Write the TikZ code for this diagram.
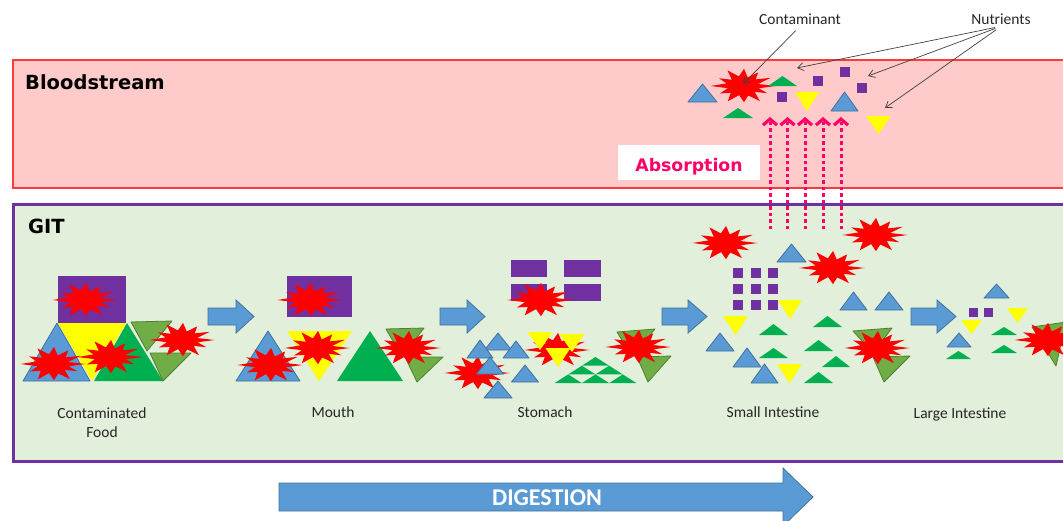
\documentclass[tikz,border=0pt]{standalone}
\usepackage{fontspec}
\setmainfont{Carlito}
\newfontfamily\headfont{DejaVu Sans}
\usetikzlibrary{arrows.meta}

\definecolor{bloodfill}{HTML}{FFCACA}
\definecolor{bloodedge}{HTML}{FF3B3B}
\definecolor{gitfill}{HTML}{E2EFDA}
\definecolor{gitedge}{HTML}{7030A0}
\definecolor{tblue}{HTML}{5B9BD5}
\definecolor{tblueedge}{HTML}{41719C}
\definecolor{tgreen}{HTML}{00B050}
\definecolor{tolive}{HTML}{70AD47}
\definecolor{toliveedge}{HTML}{507E32}
\definecolor{tpurple}{HTML}{7030A0}
\definecolor{tyellow}{HTML}{FFFF00}
\definecolor{absorbpink}{HTML}{FF0066}
\definecolor{pointgray}{HTML}{404040}
\definecolor{labelgray}{HTML}{262626}

% triangle helpers: style, centre x, base (or top) y, width, height
\newcommand\trup[5]{\path[#1] ({#2-(#4)/2},#3) -- ({#2+(#4)/2},#3) -- (#2,{#3-(#5)}) -- cycle;}
\newcommand\trdn[5]{\path[#1] ({#2-(#4)/2},#3) -- ({#2+(#4)/2},#3) -- (#2,{#3+(#5)}) -- cycle;}
% small nutrient square: x, y, size
\newcommand\nutsq[3]{\path[pur] (#1,#2) rectangle ++(#3,#3);}
% stage block arrow: left x, head base x, tip x
\newcommand\stagearrow[3]{\path[stagearr] (#1,308) -- (#2,308) -- (#2,300) -- (#3,316.5) -- (#2,333) -- (#2,325) -- (#1,325) -- cycle;}

\begin{document}
\begin{tikzpicture}[x=1pt,y=-1pt,
  blu/.style={fill=tblue,draw=tblueedge,line width=0.8pt,line join=round},
  yel/.style={fill=tyellow},
  grn/.style={fill=tgreen},
  olv/.style={fill=tolive,draw=toliveedge,line width=0.8pt,line join=round},
  pur/.style={fill=tpurple},
  stagearr/.style={fill=tblue,draw=tblueedge,line width=0.8pt,line join=miter},
  zonetitle/.style={font=\headfont\bfseries\fontsize{19.5}{22}\selectfont,anchor=base west,inner sep=0pt},
  stagelabel/.style={font=\fontsize{15.5}{19}\selectfont,text=labelgray,anchor=base,inner sep=0pt,align=center},
  toplabel/.style={font=\fontsize{15.5}{19}\selectfont,text=labelgray,anchor=base,inner sep=2pt},
  pointer/.style={draw=pointgray,line width=0.7pt,shorten <=6pt,-{Straight Barb[length=6pt,width=8pt]}},
  absorb/.style={draw=absorbpink,line width=3pt,dash pattern=on 3.5pt off 3pt,
    -{Straight Barb[length=6pt,width=14pt,line width=3.2pt]}},
  boom/.pic={\fill[red,xscale=31,yscale=18] (0:1.05)
    \foreach \a/\r in {14/.52, 27/.88, 41/.5, 57/1.0, 72/.55, 88/.9, 104/.52, 120/.98,
      136/.55, 151/.85, 166/.5, 180/1.05, 195/.55, 209/.88, 224/.5, 240/1.0, 256/.55,
      272/.95, 288/.5, 303/.9, 318/.55, 333/1.0, 347/.5} { -- (\a:\r) } -- cycle;}
]
\useasboundingbox (0,0) rectangle (1063,520);
\clip (0,0) rectangle (1063,520);

% ---------- zones ----------
\path[fill=bloodfill,draw=bloodedge,line width=1.2pt] (13,60) rectangle (1080,188);
\node[zonetitle] (bloodtitle) at (25,89) {Bloodstream};
\path[fill=gitfill,draw=gitedge,line width=3pt] (13,204) rectangle (1080,461);
\node[zonetitle] (gittitle) at (28,233) {GIT};

% ---------- absorption ----------
\path[fill=white] (618,145) rectangle (760,180);
\node[font=\headfont\bfseries\fontsize{17.3}{20}\selectfont,text=absorbpink,anchor=base,inner sep=0pt]
  (abslabel) at (689,171) {Absorption};
\foreach \i/\x in {1/770,2/787.5,3/805,4/823,5/841}{
  \coordinate (ab\i) at (\x,229);
  \coordinate (at\i) at (\x,117);
  \draw[absorb] (ab\i) -- (at\i);
}

% ---------- bloodstream contents ----------
\trup{blu}{702.5}{102}{29}{18}
\pic at (743,86) {boom};
\coordinate (contam) at (743,84);
\trup{grn}{782.5}{86}{29}{10}
\trup{grn}{738}{118}{30}{10}
\nutsq{777}{92}{10}
\nutsq{813}{76}{10}
\nutsq{839.5}{67}{10}
\nutsq{857}{83}{10}
\trdn{yel}{807}{92}{24}{19}
\trup{blu}{844.5}{111}{27}{19}
\trdn{yel}{878.5}{116}{25}{18}
\coordinate (nutA) at (797,68);
\coordinate (nutB) at (868,76);
\coordinate (nutC) at (885,108);

% ---------- stage arrows ----------
\stagearrow{208}{236}{254}
\stagearrow{440}{467}{485}
\stagearrow{662}{688}{707}
\stagearrow{911}{937}{956}

% ---------- contaminated food ----------
\path[pur] (58,276) rectangle (126,323);
\path[blu] (23,381) -- (90,381) -- (57,323) -- cycle;
\path[yel] (58,323) -- (126,323) -- (92,381) -- cycle;
\path[grn] (94,381) -- (163,381) -- (127,323) -- cycle;
\path[olv] (131,322) -- (172,321) -- (147,351) -- cycle;
\path[olv] (150,353) -- (191,353) -- (163,381) -- cycle;
\pic at (85,300) {boom};
\pic at (53,364) {boom};
\pic at (110,357) {boom};
\pic at (182,340) {boom};
\node[stagelabel] (lblfood) at (102,418) {Contaminated};
\node[stagelabel] (lblfood2) at (102,437) {Food};

% ---------- mouth ----------
\path[pur] (287,276) rectangle (352,317);
\path[blu] (236,381) -- (300,381) -- (268,331) -- cycle;
\path[yel] (287,331) -- (352,331) -- (319,381) -- cycle;
\path[grn] (337,381) -- (403,381) -- (370,331) -- cycle;
\path[olv] (386,329) -- (424,328) -- (402,357) -- cycle;
\path[olv] (405,357) -- (443,357) -- (417,382) -- cycle;
\pic at (310,300) {boom};
\pic at (270,365) {boom};
\pic at (317,348) {boom};
\pic at (408,348) {boom};
\node[stagelabel] (lblmouth) at (333,417) {Mouth};

% ---------- stomach ----------
\path[pur] (511,260) rectangle (547,277);
\path[pur] (564,260) rectangle (601,277);
\path[pur] (511,284) rectangle (547,301);
\path[pur] (564,284) rectangle (601,301);
\pic at (540,300) {boom};
\pic at (557,350) {boom};
\pic at (477,373) {boom};
\trup{blu}{498}{350}{27}{17}
\trup{blu}{480}{358}{26}{18}
\trup{blu}{516}{358}{26}{17}
\trup{blu}{490}{374}{27}{17}
\trup{blu}{525}{382}{27}{17}
\trup{blu}{498}{398}{28}{17}
\trdn{yel}{540}{332}{25}{18}
\trdn{yel}{572}{334}{25}{18}
\trdn{yel}{558}{348}{25}{19}
\trup{grn}{595.5}{365.7}{27.3}{8.7}
\trup{grn}{581.85}{374.4}{27.3}{8.7}
\trup{grn}{609.15}{374.4}{27.3}{8.7}
\trup{grn}{568.2}{383.1}{27.3}{8.7}
\trup{grn}{595.5}{383.1}{27.3}{8.7}
\trup{grn}{622.8}{383.1}{27.3}{8.7}
\path[olv] (617,332) -- (655,329) -- (632,357) -- cycle;
\path[olv] (637,357) -- (671,356) -- (648,382) -- cycle;
\pic at (638,347) {boom};
\node[stagelabel] (lblstomach) at (545,417) {Stomach};

% ---------- small intestine ----------
\foreach \x in {733,751,768}{
  \foreach \y in {268,284,300}{ \nutsq{\x}{\y}{9.5} }}
\trup{blu}{791.5}{262}{29}{18}
\trup{blu}{853.5}{310}{27}{18}
\trup{blu}{889}{310}{28}{18}
\trup{blu}{720}{351}{28}{18}
\trup{blu}{747}{367}{28}{19}
\trup{blu}{764.5}{383}{27}{19}
\trdn{yel}{790}{300}{24}{19}
\trdn{yel}{735.5}{316}{25}{19}
\trdn{yel}{789.5}{364}{25}{19}
\trup{grn}{827.5}{327}{29}{11}
\trup{grn}{773.5}{335}{29}{11}
\trup{grn}{773.5}{358}{29}{10}
\trup{grn}{818.5}{351}{29}{11}
\trup{grn}{836}{367}{28}{11}
\trup{grn}{818.5}{383}{29}{11}
\path[olv] (853,331) -- (892,328) -- (873,353) -- cycle;
\path[olv] (873,357) -- (910,356) -- (884,382) -- cycle;
\pic at (725,243) {boom};
\pic at (875,235) {boom};
\pic at (832,268) {boom};
\pic at (877,348) {boom};
\node[stagelabel] (lblsmall) at (773,417) {Small Intestine};

% ---------- large intestine ----------
\trup{blu}{996.5}{298}{25}{14}
\nutsq{969}{308}{9}
\nutsq{984}{308}{9}
\trdn{yel}{971.5}{320}{21}{14}
\trdn{yel}{1017.5}{308}{21}{15}
\trup{blu}{959}{347}{24}{14}
\trup{grn}{958.5}{359}{25}{8}
\trup{grn}{1004}{335}{26}{8}
\trup{grn}{1004}{353}{26}{8}
\path[olv] (1032,327) -- (1066,322) -- (1056,366) -- cycle;
\pic at (1047,340) {boom};
\node[stagelabel] (lbllarge) at (960,418) {Large Intestine};

% ---------- digestion arrow ----------
\path[stagearr] (279,483) -- (783,483) -- (783,468) -- (813,497) -- (783,526) -- (783,511) -- (279,511) -- cycle;
\node[font=\bfseries\fontsize{24}{26}\selectfont,text=white,inner sep=0pt] (digestion) at (547,498) {DIGESTION};

% ---------- callouts ----------
\node[toplabel] (lblcont) at (800,24) {Contaminant};
\node[toplabel] (lblnut) at (1001,24) {Nutrients};
\draw[pointer] (lblcont.south) -- (contam);
\draw[pointer] (lblnut.south) -- (nutA);
\draw[pointer] (lblnut.south) -- (nutB);
\draw[pointer] (lblnut.south) -- (nutC);
\end{tikzpicture}
\end{document}
